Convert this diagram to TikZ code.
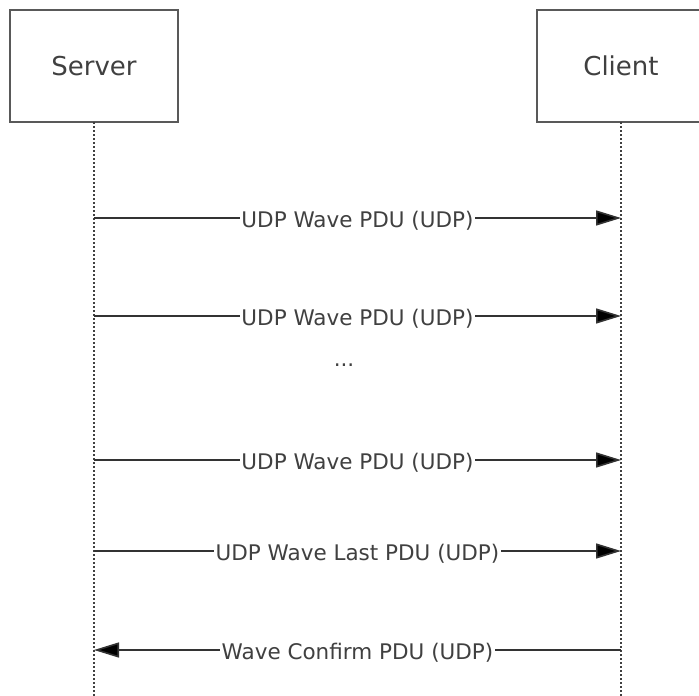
\documentclass[tikz,border=0pt]{standalone}
\usepackage{fontspec}
\setmainfont{DejaVu Sans}
\usetikzlibrary{arrows.meta}
\begin{document}
\begin{tikzpicture}[x=1bp,y=-1bp,inner sep=0pt,outer sep=0pt,
actor/.style={draw=black!65,line width=1.5bp,rectangle,minimum width=168bp,minimum height=112bp,text=black!75,font=\fontsize{26bp}{30bp}\selectfont},
lifeline/.style={draw=black!75,line width=2bp,dash pattern=on 2bp off 2bp},
msg/.style={draw=black!80,line width=1.6bp,-{Triangle[length=25bp,width=15bp,fill=black]}},
msglabel/.style={fill=white,inner sep=1.5bp,yshift=-3bp,text=black!75,font=\fontsize{21.5bp}{25bp}\selectfont}]
\clip (0,0) rectangle (699,696);
\node[actor] (server) at (94,66) {Server};
\node[actor] (client) at (621,66) {Client};
\coordinate (server end) at (94,696);
\coordinate (client end) at (621,696);
\draw[lifeline] (server.south) -- (server end);
\draw[lifeline] (client.south) -- (client end);
% message rows on both lifelines
\foreach \i/\y in {1/218,2/316,3/460,4/551,5/650} {
  \coordinate (s\i) at (94,\y);
  \coordinate (c\i) at (621,\y);
}
\draw[msg] (s1) -- node[msglabel] {UDP Wave PDU (UDP)} (c1);
\draw[msg] (s2) -- node[msglabel] {UDP Wave PDU (UDP)} (c2);
\node[text=black!75,font=\fontsize{21.5bp}{25bp}\selectfont] (dots) at (344,365) {...};
\draw[msg] (s3) -- node[msglabel] {UDP Wave PDU (UDP)} (c3);
\draw[msg] (s4) -- node[msglabel] {UDP Wave Last PDU (UDP)} (c4);
\draw[msg] (c5) -- node[msglabel] {Wave Confirm PDU (UDP)} (s5);
\end{tikzpicture}
\end{document}
